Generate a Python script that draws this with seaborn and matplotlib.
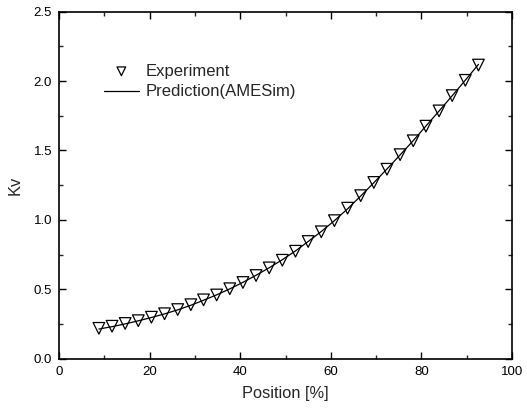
import matplotlib
matplotlib.use("Agg")
import matplotlib.pyplot as plt
import seaborn as sns
import pandas as pd
from matplotlib.ticker import MultipleLocator

# Data
position = [8.8, 11.7, 14.6, 17.5, 20.4, 23.3, 26.2, 29.1, 31.9, 34.8,
            37.7, 40.6, 43.5, 46.4, 49.3, 52.2, 55.0, 57.9, 60.8, 63.7,
            66.6, 69.5, 72.4, 75.3, 78.2, 81.0, 83.9, 86.8, 89.7, 92.6]
kv_experiment = [0.22, 0.235, 0.255, 0.275, 0.30, 0.325, 0.355, 0.39, 0.425, 0.46,
                 0.505, 0.55, 0.60, 0.655, 0.71, 0.775, 0.845, 0.915, 0.995, 1.085,
                 1.175, 1.27, 1.365, 1.47, 1.57, 1.675, 1.785, 1.895, 2.005, 2.115]
kv_prediction = [0.215, 0.232, 0.252, 0.274, 0.298, 0.324, 0.353, 0.386, 0.422, 0.461,
                 0.504, 0.551, 0.602, 0.656, 0.714, 0.777, 0.845, 0.917, 0.995, 1.080,
                 1.172, 1.268, 1.367, 1.468, 1.571, 1.676, 1.784, 1.894, 2.006, 2.120]

df_exp = pd.DataFrame({"Position": position, "Kv": kv_experiment})
df_pred = pd.DataFrame({"Position": position, "Kv": kv_prediction})

sns.set_theme(style="ticks")
plt.rcParams['font.family'] = ['Liberation Sans', 'DejaVu Sans']

fig = plt.figure(figsize=(5.27, 4.13), dpi=100)
ax = fig.add_axes([0.112, 0.131, 0.8595, 0.841])

sns.lineplot(data=df_pred, x="Position", y="Kv", ax=ax, color="black",
             linewidth=0.9, label="Prediction(AMESim)", zorder=3)
sns.scatterplot(data=df_exp, x="Position", y="Kv", ax=ax, marker="v",
                s=70, facecolors="none", edgecolor="black", linewidth=0.9,
                label="Experiment", zorder=2)

ax.set_xlim(0, 100)
ax.set_ylim(0, 2.5)
ax.xaxis.set_major_locator(MultipleLocator(20))
ax.xaxis.set_minor_locator(MultipleLocator(10))
ax.yaxis.set_major_locator(MultipleLocator(0.5))
ax.yaxis.set_minor_locator(MultipleLocator(0.25))
ax.xaxis.set_major_formatter(matplotlib.ticker.FormatStrFormatter("%d"))
ax.yaxis.set_major_formatter(matplotlib.ticker.FormatStrFormatter("%.1f"))

ax.tick_params(which="major", direction="in", length=5, width=1,
               top=True, right=True, labelsize=9.5, colors="black", pad=5)
ax.tick_params(which="minor", direction="in", length=3, width=1,
               top=True, right=True)
for sp in ax.spines.values():
    sp.set_linewidth(1.2)
    sp.set_color("black")

ax.set_xlabel("Position [%]", fontsize=11.8, labelpad=6)
ax.set_ylabel("Kv", fontsize=11.8, labelpad=8)

handles, labels = ax.get_legend_handles_labels()
order = [labels.index("Experiment"), labels.index("Prediction(AMESim)")]
ax.legend([handles[i] for i in order], [labels[i] for i in order],
          loc="upper left", bbox_to_anchor=(0.099, 0.85), frameon=False,
          fontsize=12, markerscale=0.75, handlelength=2.1, handletextpad=0.4,
          labelspacing=0.35, borderpad=0, borderaxespad=0)

fig.savefig("out.png", dpi=100)
